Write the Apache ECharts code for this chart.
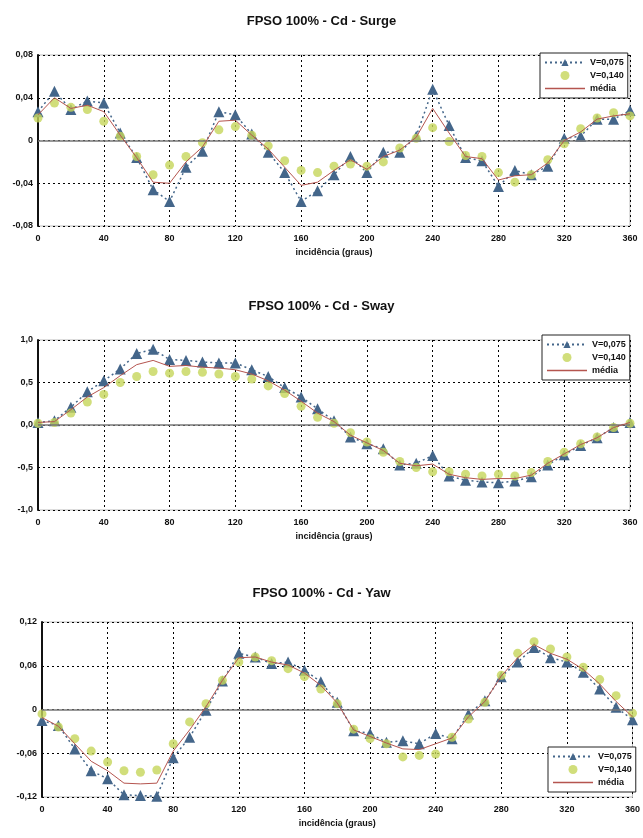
<!DOCTYPE html>
<html>
<head>
<meta charset="utf-8">
<script src="https://cdn.jsdelivr.net/npm/echarts@6/dist/echarts.min.js"></script>
<style>
  html, body { margin: 0; padding: 0; background: #fff; }
  #chart { width: 643px; height: 838px; }
</style>
</head>
<body>
<div id="chart"></div>
<script>
  // incidência (graus)
  const angles = [0, 10, 20, 30, 40, 50, 60, 70, 80, 90, 100, 110, 120, 130, 140, 150, 160, 170, 180,
    190, 200, 210, 220, 230, 240, 250, 260, 270, 280, 290, 300, 310, 320, 330, 340, 350, 360]

  // Surge
  const surgeV075 = [0.027, 0.046, 0.029, 0.037, 0.035, 0.007, -0.016, -0.046, -0.057, -0.025, -0.010, 0.027, 0.024,
    0.006, -0.011, -0.030, -0.057, -0.047, -0.032, -0.015, -0.030, -0.011, -0.011, 0.004, 0.048, 0.014, -0.016,
    -0.019, -0.043, -0.028, -0.032, -0.024, 0.002, 0.004, 0.020, 0.020, 0.028]
  const surgeV140 = [0.021, 0.035, 0.031, 0.029, 0.018, 0.004, -0.015, -0.032, -0.023, -0.015, -0.002, 0.010, 0.013,
    0.005, -0.005, -0.019, -0.028, -0.030, -0.024, -0.022, -0.024, -0.020, -0.007, 0.002, 0.012, -0.001, -0.014,
    -0.015, -0.030, -0.039, -0.032, -0.018, -0.003, 0.011, 0.021, 0.026, 0.023]
  const surgeMedia = [0.024, 0.040, 0.030, 0.033, 0.027, 0.005, -0.016, -0.039, -0.040, -0.020, -0.006, 0.018, 0.019,
    0.005, -0.008, -0.025, -0.042, -0.039, -0.028, -0.018, -0.027, -0.015, -0.009, 0.003, 0.030, 0.007, -0.015,
    -0.017, -0.037, -0.033, -0.032, -0.021, 0.000, 0.008, 0.020, 0.023, 0.025]

  // Sway
  const swayV075 = [0.03, 0.05, 0.21, 0.39, 0.52, 0.66, 0.84, 0.89, 0.77, 0.76, 0.74, 0.73, 0.73, 0.65, 0.57, 0.44,
    0.33, 0.19, 0.05, -0.14, -0.22, -0.28, -0.47, -0.45, -0.36, -0.60, -0.65, -0.67, -0.68, -0.66, -0.61, -0.47,
    -0.35, -0.24, -0.15, -0.03, 0.03]
  const swayV140 = [0.02, 0.03, 0.14, 0.27, 0.36, 0.50, 0.57, 0.63, 0.61, 0.63, 0.62, 0.60, 0.57, 0.54, 0.46, 0.37,
    0.22, 0.09, 0.02, -0.09, -0.20, -0.32, -0.43, -0.50, -0.55, -0.55, -0.58, -0.60, -0.58, -0.60, -0.56, -0.43,
    -0.32, -0.22, -0.14, -0.03, 0.02]
  const swayMedia = [0.03, 0.04, 0.18, 0.33, 0.44, 0.58, 0.71, 0.76, 0.69, 0.70, 0.68, 0.67, 0.65, 0.60, 0.52, 0.41,
    0.28, 0.14, 0.04, -0.12, -0.21, -0.30, -0.45, -0.48, -0.46, -0.58, -0.62, -0.64, -0.63, -0.63, -0.59, -0.45,
    -0.34, -0.23, -0.15, -0.03, 0.03]

  // Yaw
  const yawV075 = [-0.015, -0.022, -0.054, -0.084, -0.095, -0.117, -0.118, -0.119, -0.066, -0.038, -0.001, 0.039,
    0.077, 0.072, 0.063, 0.065, 0.054, 0.038, 0.010, -0.029, -0.033, -0.045, -0.043, -0.047, -0.033, -0.040,
    -0.006, 0.012, 0.045, 0.065, 0.085, 0.071, 0.065, 0.051, 0.028, 0.003, -0.014]
  const yawV140 = [-0.006, -0.024, -0.040, -0.057, -0.072, -0.084, -0.086, -0.083, -0.047, -0.017, 0.008, 0.040,
    0.065, 0.072, 0.067, 0.056, 0.045, 0.028, 0.008, -0.027, -0.040, -0.047, -0.065, -0.063, -0.061, -0.038,
    -0.013, 0.010, 0.047, 0.077, 0.093, 0.083, 0.072, 0.058, 0.041, 0.019, -0.005]
  const yawMedia = [-0.011, -0.023, -0.047, -0.071, -0.084, -0.101, -0.102, -0.101, -0.057, -0.028, 0.004, 0.040,
    0.071, 0.072, 0.065, 0.061, 0.050, 0.033, 0.009, -0.028, -0.037, -0.046, -0.054, -0.055, -0.047, -0.039,
    -0.010, 0.011, 0.046, 0.071, 0.089, 0.077, 0.069, 0.055, 0.035, 0.011, -0.010]

  const xTicks = { min: 0, max: 360, interval: 40 }
  const seriesNames = ['V=0,075', 'V=0,140', 'média']
  const titles = ['FPSO 100% - Cd - Surge', 'FPSO 100% - Cd - Sway', 'FPSO 100% - Cd - Yaw']

  const blue = '#44668a'
  const green = '#c6d65a'
  const red = '#b5554f'
  const font = 'Liberation Sans, Arial, sans-serif'

  const chart = echarts.init(document.getElementById('chart'))

  // posição de cada gráfico (grid) na página
  const grids = [
    { left: 38, top: 55, width: 592, height: 171 },
    { left: 38, top: 340, width: 592, height: 170 },
    { left: 42, top: 622, width: 592, height: 175 }
  ]
  const yAxes = [
    { min: -0.08, max: 0.08, interval: 0.04, dec: 2 },
    { min: -1, max: 1, interval: 0.5, dec: 1 },
    { min: -0.12, max: 0.12, interval: 0.06, dec: 2 }
  ]
  const data = [
    [surgeV075, surgeV140, surgeMedia],
    [swayV075, swayV140, swayMedia],
    [yawV075, yawV140, yawMedia]
  ]
  const titleTops = [10, 295, 582]
  const legendPos = [
    { left: 540, top: 53 },
    { left: 542, top: 335 },
    { left: 548, top: 747 }
  ]

  const pairs = arr => angles.map((a, i) => [a, arr[i]])

  const fmt = (v, dec) => {
    if (Math.abs(v) < 1e-9) return dec === 1 ? '0,0' : '0'
    return v.toFixed(dec).replace('.', ',')
  }

  const dashed = { show: true, lineStyle: { color: '#000', type: [2, 3], width: 1 } }

  const option = {
    animation: false,
    backgroundColor: '#fff',
    textStyle: { fontFamily: font },
    title: titles.map((t, i) => ({
      text: t,
      left: 'center',
      top: titleTops[i],
      textStyle: { fontSize: 13, fontWeight: 'bold', color: '#111', fontFamily: font }
    })),
    legend: legendPos.map(p => ({
      left: p.left,
      top: p.top,
      orient: 'vertical',
      data: [
        seriesNames[0],
        seriesNames[1],
        { name: seriesNames[2], icon: 'path://M0,0 L40,0 L40,1.6 L0,1.6 Z' }
      ],
      itemWidth: 40,
      itemHeight: 9,
      itemGap: 4,
      padding: [5, 4, 5, 4],
      width: 84,
      backgroundColor: '#fff',
      borderColor: '#222',
      borderWidth: 1,
      selectedMode: false,
      textStyle: { fontSize: 9, fontWeight: 'bold', color: '#111', fontFamily: font }
    })),
    grid: grids.map(g => Object.assign({ show: true, borderColor: '#bbb', borderWidth: 1, backgroundColor: '#fff' }, g)),
    xAxis: grids.map((g, i) => ({
      type: 'value',
      gridIndex: i,
      min: xTicks.min,
      max: xTicks.max,
      interval: xTicks.interval,
      name: 'incidência (graus)',
      nameLocation: 'middle',
      nameGap: 22,
      nameTextStyle: { fontSize: 9, fontWeight: 'bold', color: '#111' },
      axisLine: { show: false },
      axisTick: { show: false },
      axisLabel: { fontSize: 9, fontWeight: 'bold', color: '#111', margin: 8 },
      splitLine: dashed
    })),
    yAxis: yAxes.map((y, i) => ({
      type: 'value',
      gridIndex: i,
      min: y.min,
      max: y.max,
      interval: y.interval,
      axisLine: { show: true, lineStyle: { color: '#111', width: 2 } },
      axisTick: { show: false },
      axisLabel: { fontSize: 9, fontWeight: 'bold', color: '#111', margin: 5, formatter: v => fmt(v, y.dec) },
      splitLine: dashed
    })),
    series: []
  }

  data.forEach((d, i) => {
    option.series.push({
      name: seriesNames[0],
      type: 'line',
      xAxisIndex: i,
      yAxisIndex: i,
      data: pairs(d[0]),
      symbol: 'triangle',
      symbolSize: 11,
      itemStyle: { color: blue },
      lineStyle: { color: blue, width: 1.5, type: [2, 3] },
      markLine: {
        silent: true,
        symbol: 'none',
        label: { show: false },
        lineStyle: { color: '#777', width: 1.5, type: 'solid' },
        data: [{ yAxis: 0 }]
      },
      z: 3
    })
    option.series.push({
      name: seriesNames[1],
      type: 'scatter',
      xAxisIndex: i,
      yAxisIndex: i,
      data: pairs(d[1]),
      symbol: 'circle',
      symbolSize: 9,
      itemStyle: { color: green },
      z: 4
    })
    option.series.push({
      name: seriesNames[2],
      type: 'line',
      xAxisIndex: i,
      yAxisIndex: i,
      data: pairs(d[2]),
      symbol: 'none',
      showSymbol: false,
      itemStyle: { color: red },
      lineStyle: { color: red, width: 1 },
      z: 5
    })
  })

  chart.setOption(option)
</script>
</body>
</html>
